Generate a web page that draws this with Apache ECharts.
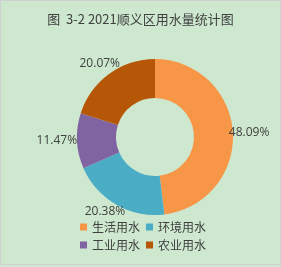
<!DOCTYPE html>
<html><head><meta charset="utf-8">
<script src="https://cdn.jsdelivr.net/npm/echarts@6/dist/echarts.min.js"></script>
<style>html,body{margin:0;padding:0;background:#fff}#c{width:281px;height:267px;}</style>
</head><body><div id="c"></div>
<script>
const categories = ['生活用水','环境用水','工业用水','农业用水'];
const values = [48.09, 20.38, 11.47, 20.07];
const colors = ['#f79646','#4bacc6','#8064a2','#b65708'];
const titleText = '图  3-2 2021顺义区用水量统计图';

const chart = echarts.init(document.getElementById('c'), null, {renderer:'canvas'});
chart.setOption({
  backgroundColor: '#cde8cf',
  graphic: [{type:'rect', shape:{x:0.5,y:0.5,width:280,height:264}, style:{fill:'none', stroke:'#d0d0d0', lineWidth:1}}],
  title: {text: titleText, left: 'center', top: 8, textStyle:{fontSize:13, fontWeight:'normal', color:'#404040', fontFamily:'"Noto Sans CJK SC", sans-serif'}},
  legend: {
    data: categories, left: 75, top: 216, width: 140, itemWidth: 7, itemHeight: 7, itemGap: 6,
    icon: 'rect',
    textStyle: {fontSize: 12, lineHeight: 12, color:'#404040', fontFamily:'"Noto Sans CJK SC", sans-serif'}
  },
  series: [{
    type: 'pie', center: [155, 137], radius: [39, 78], startAngle: 90, clockwise: true,
    color: colors,
    data: categories.map((n,i)=>({name:n, value: values[i]})),
    label: {show: true, position: 'outside', overflow: 'none', distanceToLabelLine: 0, formatter: p => p.value.toFixed(2)+'%', fontSize: 12, color:'#404040', fontFamily:'"Open Sans", sans-serif'},
    labelLine: {show: false, length: 0, length2: 0},
    labelLayout: p => {
      const nudge = [[-4,0],[9,7],[0,0],[11,-10]][p.dataIndex];
      return {dx: nudge[0], dy: nudge[1]};
    },
    itemStyle: {borderColor:'#cde8cf', borderWidth: 0},
    emphasis: {disabled: true}
  }]
});
</script></body></html>
